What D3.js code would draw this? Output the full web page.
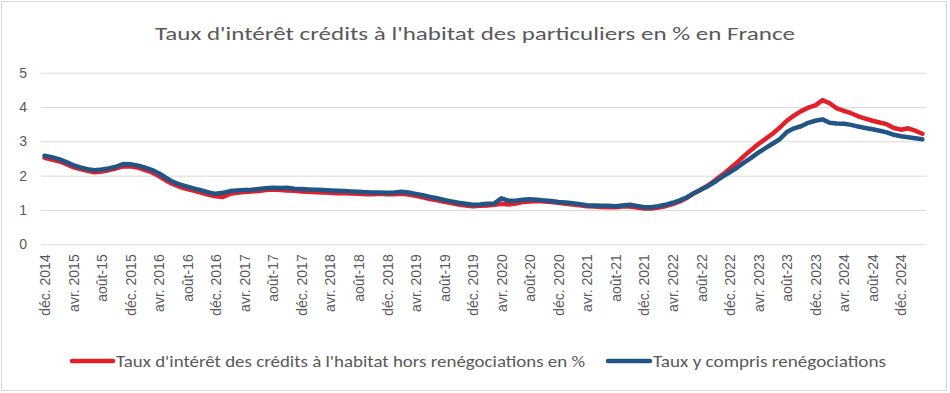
<!DOCTYPE html>
<html><head><meta charset="utf-8">
<script src="https://cdn.jsdelivr.net/npm/d3@7"></script>
<style>
html,body{margin:0;padding:0;background:#fff;}
svg{display:block;}
</style></head>
<body>
<script>
// ---- DATA ----
const title = "Taux d'intérêt crédits à l'habitat des particuliers en %  en France";
const seriesNames = ["Taux d'intérêt des crédits à l'habitat hors renégociations en %", "Taux y compris renégociations"];
// monthly, déc. 2014 -> mars 2025
const horsReneg = [
  2.52,
  2.47,2.42,2.34,2.25,2.19,2.14,2.10,2.12,2.16,2.21,2.27,2.27,
  2.24,2.17,2.10,1.99,1.86,1.75,1.67,1.61,1.56,1.50,1.44,1.40,
  1.38,1.47,1.50,1.52,1.54,1.55,1.58,1.60,1.58,1.57,1.56,1.54,
  1.53,1.52,1.51,1.50,1.49,1.49,1.48,1.47,1.46,1.46,1.47,1.46,
  1.46,1.47,1.45,1.41,1.37,1.32,1.28,1.24,1.20,1.16,1.13,1.11,
  1.12,1.13,1.15,1.18,1.16,1.19,1.23,1.25,1.26,1.25,1.23,1.21,
  1.18,1.16,1.14,1.11,1.10,1.09,1.08,1.08,1.10,1.10,1.07,1.04,
  1.04,1.07,1.11,1.17,1.25,1.35,1.49,1.60,1.72,1.87,2.03,2.20,
  2.38,2.57,2.75,2.92,3.07,3.22,3.40,3.60,3.75,3.88,3.98,4.05,
  4.20,4.11,3.96,3.89,3.82,3.73,3.66,3.60,3.55,3.50,3.39,3.34,
  3.38,3.31,3.22
];
const yComprisReneg = [
  2.58,
  2.54,2.48,2.40,2.31,2.24,2.19,2.16,2.18,2.21,2.26,2.34,2.33,
  2.30,2.24,2.17,2.07,1.94,1.82,1.74,1.68,1.62,1.57,1.51,1.47,
  1.50,1.55,1.57,1.58,1.59,1.61,1.63,1.65,1.64,1.65,1.62,1.61,
  1.60,1.59,1.58,1.57,1.56,1.55,1.54,1.53,1.52,1.51,1.51,1.50,
  1.51,1.53,1.51,1.47,1.43,1.38,1.34,1.29,1.25,1.21,1.18,1.15,
  1.16,1.18,1.19,1.34,1.27,1.27,1.30,1.31,1.30,1.28,1.26,1.23,
  1.22,1.20,1.17,1.14,1.13,1.12,1.12,1.11,1.13,1.15,1.12,1.08,
  1.08,1.11,1.15,1.21,1.28,1.37,1.49,1.60,1.70,1.83,1.97,2.10,
  2.23,2.38,2.52,2.67,2.80,2.93,3.06,3.27,3.38,3.44,3.54,3.60,
  3.64,3.54,3.52,3.51,3.48,3.43,3.39,3.35,3.31,3.26,3.19,3.15,
  3.12,3.09,3.06
];
const yTicks = [0,1,2,3,4,5];
const xTickLabels = ["déc. 2014","avr. 2015","août-15","déc. 2015","avr. 2016","août-16","déc. 2016","avr. 2017","août-17","déc. 2017","avr. 2018","août-18","déc. 2018","avr. 2019","août-19","déc. 2019","avr. 2020","août-20","déc. 2020","avr. 2021","août-21","déc. 2021","avr. 2022","août-22","déc. 2022","avr. 2023","août-23","déc. 2023","avr. 2024","août-24","déc. 2024"];
const colors = ["#E3202A", "#215586"];

// categories: month index 0 = déc. 2014
const categories = horsReneg.map((d,i)=>i);

const W = 950, H = 393;
const svg = d3.select("body").append("svg").attr("width",W).attr("height",H);
svg.append("rect").attr("x",0).attr("y",0).attr("width",W).attr("height",H).attr("fill","#fff");
svg.append("rect").attr("x",1.5).attr("y",1.5).attr("width",945).attr("height",389)
  .attr("fill","none").attr("stroke","#d9d9d9").attr("stroke-width",1);

const x = d3.scalePoint().domain(categories).range([41,926]).padding(0.5);
const y = d3.scaleLinear().domain([0,5]).range([244.3,72.7]);

const txtColor = "#595959";
const font = "'Liberation Sans', Arial, sans-serif";

// title
svg.append("text").attr("x",475).attr("y",40).attr("text-anchor","middle")
  .attr("font-family","Carlito, Calibri, 'Open Sans', sans-serif").attr("font-size",19)
  .attr("fill",txtColor).attr("textLength",640).attr("lengthAdjust","spacingAndGlyphs").text(title);

// grid
const yAxis = d3.axisLeft(y).tickValues(yTicks).tickSize(-(926-41)).tickPadding(14).tickFormat(d3.format("d"));
const gy = svg.append("g").attr("transform","translate(41,0)").call(yAxis);
gy.select(".domain").remove();
gy.selectAll(".tick line").attr("stroke","#d9d9d9").attr("stroke-width",1);
gy.selectAll(".tick text").attr("font-family",font).attr("font-size",14).attr("fill",txtColor);

// x axis labels
const tickCats = xTickLabels.map((d,i)=>i*4);
const xAxis = d3.axisBottom(x).tickValues(tickCats).tickSize(0)
  .tickFormat((d,i)=>xTickLabels[i]);
const gx = svg.append("g").attr("transform","translate(0,244.3)").call(xAxis);
gx.select(".domain").remove();
gx.selectAll(".tick text")
  .attr("font-family",font).attr("font-size",14).attr("fill",txtColor)
  .attr("text-anchor","end").attr("transform","rotate(-90)")
  .attr("x",-10).attr("y",0).attr("dy","0.35em");

// lines
const line = d3.line().x((d,i)=>x(categories[i])).y(d=>y(d)).curve(d3.curveLinear);
[horsReneg, yComprisReneg].forEach((s,k)=>{
  svg.append("path").datum(s).attr("d",line).attr("fill","none")
    .attr("stroke",colors[k]).attr("stroke-width",4.5)
    .attr("stroke-linejoin","round").attr("stroke-linecap","round");
});

// legend
const legendItems = [
  {x1:72, x2:113, tx:116, tlen:469},
  {x1:608, x2:650, tx:653, tlen:233}
];
legendItems.forEach((it,k)=>{
  svg.append("line").attr("x1",it.x1).attr("x2",it.x2).attr("y1",361).attr("y2",361)
    .attr("stroke",colors[k]).attr("stroke-width",4.5).attr("stroke-linecap","round");
  svg.append("text").attr("x",it.tx).attr("y",367)
    .attr("font-family","'Liberation Sans Narrow', Carlito, 'Open Sans', sans-serif").attr("font-size",17)
    .attr("fill",txtColor).attr("textLength",it.tlen).attr("lengthAdjust","spacingAndGlyphs")
    .text(seriesNames[k]);
});
</script>
</body></html>
